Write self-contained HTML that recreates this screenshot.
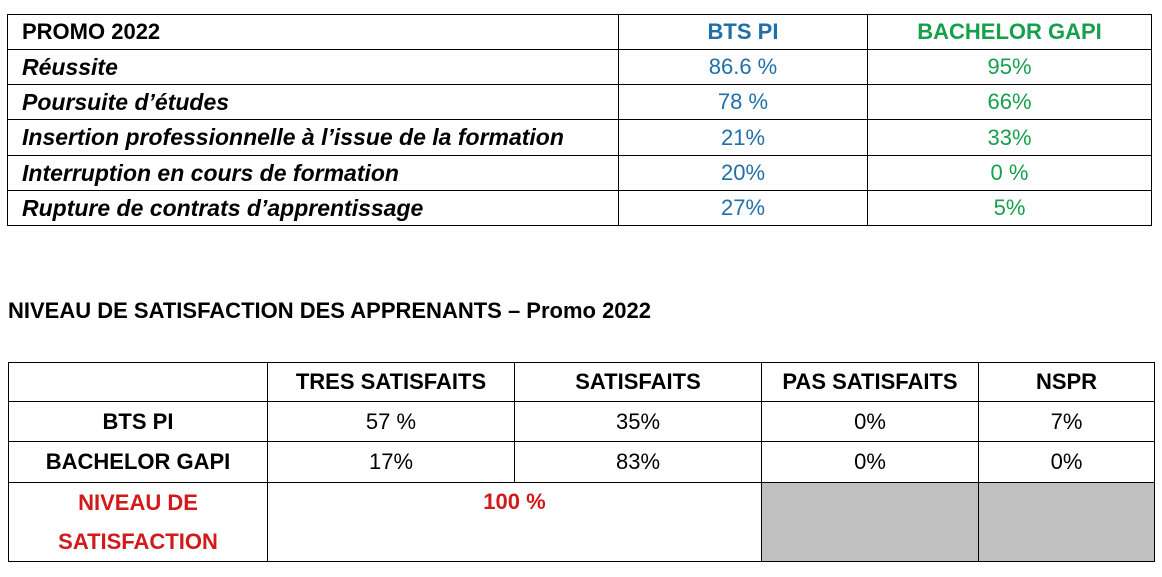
<!DOCTYPE html>
<html><head><meta charset="utf-8"><style>
body{margin:0;width:1162px;height:577px;background:#fff;position:relative;overflow:hidden;font-family:"Liberation Sans",sans-serif;}
.c{position:absolute;box-sizing:border-box;border:1px solid #000;display:flex;align-items:center;justify-content:center;font-size:22px;color:#000;margin:-1px 0 0 -1px;}
.l{justify-content:flex-start;padding-left:14px;font-weight:bold;font-style:italic;font-size:23px;}
.b{font-weight:bold}
.blue{color:#1f6fa8}.green{color:#17a04c}.red{color:#d11a1a;font-weight:bold}
.t{position:absolute;left:8px;top:298px;font-size:22px;font-weight:bold;}
</style></head><body>
<div>
<div class="c l" style="left:8px;top:15px;width:612px;height:36px;font-style:normal;font-size:22px">PROMO 2022</div>
<div class="c b blue" style="left:619px;top:15px;width:250px;height:36px">BTS PI</div>
<div class="c b green" style="left:868px;top:15px;width:285px;height:36px">BACHELOR GAPI</div>

<div class="c l" style="left:8px;top:50px;width:612px;height:36px">Réussite</div>
<div class="c blue" style="left:619px;top:50px;width:250px;height:36px">86.6 %</div>
<div class="c green" style="left:868px;top:50px;width:285px;height:36px">95%</div>

<div class="c l" style="left:8px;top:85px;width:612px;height:36px">Poursuite d’études</div>
<div class="c blue" style="left:619px;top:85px;width:250px;height:36px">78 %</div>
<div class="c green" style="left:868px;top:85px;width:285px;height:36px">66%</div>

<div class="c l" style="left:8px;top:120px;width:612px;height:37px">Insertion professionnelle à l’issue de la formation</div>
<div class="c blue" style="left:619px;top:120px;width:250px;height:37px">21%</div>
<div class="c green" style="left:868px;top:120px;width:285px;height:37px">33%</div>

<div class="c l" style="left:8px;top:156px;width:612px;height:36px">Interruption en cours de formation</div>
<div class="c blue" style="left:619px;top:156px;width:250px;height:36px">20%</div>
<div class="c green" style="left:868px;top:156px;width:285px;height:36px">0 %</div>

<div class="c l" style="left:8px;top:191px;width:612px;height:36px">Rupture de contrats d’apprentissage</div>
<div class="c blue" style="left:619px;top:191px;width:250px;height:36px">27%</div>
<div class="c green" style="left:868px;top:191px;width:285px;height:36px">5%</div>
</div>

<div class="t">NIVEAU DE SATISFACTION DES APPRENANTS – Promo 2022</div>

<div>
<div class="c" style="left:9px;top:363px;width:260px;height:40px"></div>
<div class="c b" style="left:268px;top:363px;width:248px;height:40px">TRES SATISFAITS</div>
<div class="c b" style="left:515px;top:363px;width:248px;height:40px">SATISFAITS</div>
<div class="c b" style="left:762px;top:363px;width:218px;height:40px">PAS SATISFAITS</div>
<div class="c b" style="left:979px;top:363px;width:177px;height:40px">NSPR</div>

<div class="c b" style="left:9px;top:402px;width:260px;height:41px">BTS PI</div>
<div class="c" style="left:268px;top:402px;width:248px;height:41px">57 %</div>
<div class="c" style="left:515px;top:402px;width:248px;height:41px">35%</div>
<div class="c" style="left:762px;top:402px;width:218px;height:41px">0%</div>
<div class="c" style="left:979px;top:402px;width:177px;height:41px">7%</div>

<div class="c b" style="left:9px;top:442px;width:260px;height:42px">BACHELOR GAPI</div>
<div class="c" style="left:268px;top:442px;width:248px;height:42px">17%</div>
<div class="c" style="left:515px;top:442px;width:248px;height:42px">83%</div>
<div class="c" style="left:762px;top:442px;width:218px;height:42px">0%</div>
<div class="c" style="left:979px;top:442px;width:177px;height:42px">0%</div>

<div class="c red" style="left:9px;top:483px;width:260px;height:80px;flex-direction:column;line-height:39px"><span>NIVEAU DE</span><span>SATISFACTION</span></div>
<div class="c red" style="left:268px;top:483px;width:495px;height:80px;align-items:flex-start;padding-top:6px">100 %</div>
<div class="c" style="left:762px;top:483px;width:218px;height:80px;background:#c0c0c0"></div>
<div class="c" style="left:979px;top:483px;width:177px;height:80px;background:#c0c0c0"></div>
</div>
</body></html>
